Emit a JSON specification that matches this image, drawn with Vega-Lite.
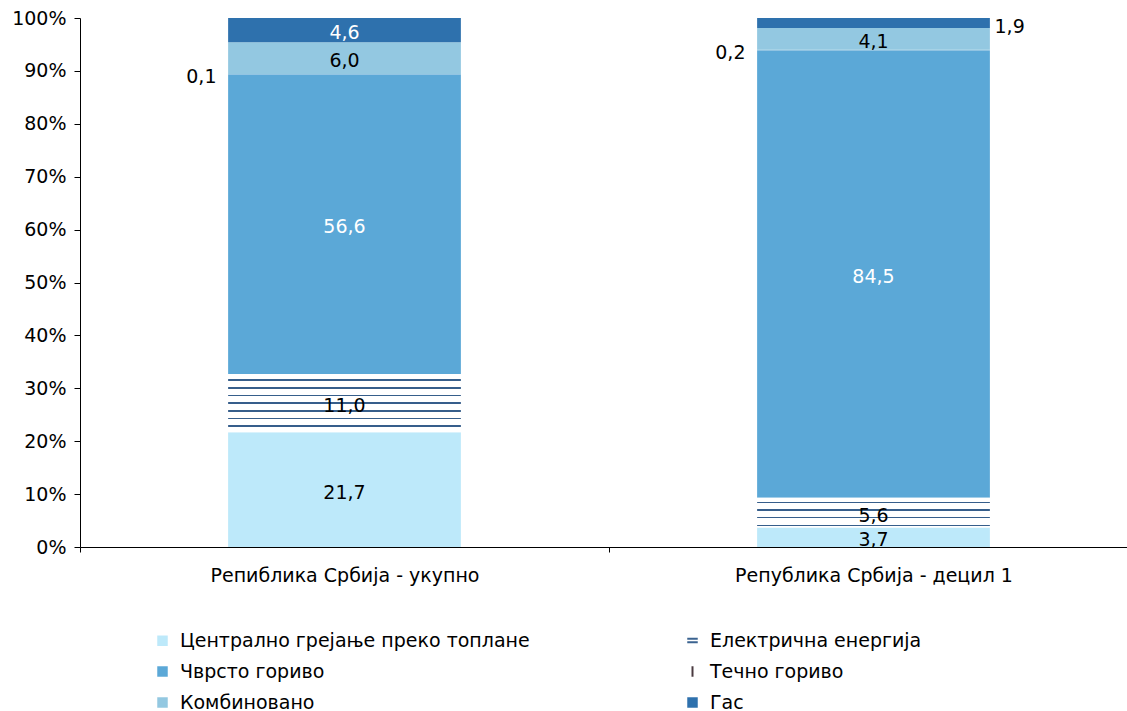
{
  "$schema": "https://vega.github.io/schema/vega-lite/v6.json",
  "width": 1047,
  "height": 529,
  "autosize": {"type": "none"},
  "padding": {"left": 80, "top": 18, "right": 0, "bottom": 164},
  "config": {
    "view": {"stroke": null},
    "locale": {"number": {"decimal": ",", "thousands": ".", "grouping": [3], "currency": ["", " €"]}},
    "axis": {"labelFont": "DejaVu Sans", "labelFontSize": 19, "labelColor": "#000000", "domainColor": "#000000", "tickColor": "#000000", "grid": false, "title": null},
    "text": {"font": "DejaVu Sans", "fontSize": 19}
  },
  "data": {
    "values": [
      {"cat": "Репиблика Србија - укупно", "series": "Централно грејање преко топлане", "k": 1, "value": 21.7},
      {"cat": "Репиблика Србија - укупно", "series": "Електрична енергија", "k": 2, "value": 11.0},
      {"cat": "Репиблика Србија - укупно", "series": "Чврсто гориво", "k": 3, "value": 56.6},
      {"cat": "Репиблика Србија - укупно", "series": "Течно гориво", "k": 4, "value": 0.1},
      {"cat": "Репиблика Србија - укупно", "series": "Комбиновано", "k": 5, "value": 6.0},
      {"cat": "Репиблика Србија - укупно", "series": "Гас", "k": 6, "value": 4.6},
      {"cat": "Република Србија - децил 1", "series": "Централно грејање преко топлане", "k": 1, "value": 3.7},
      {"cat": "Република Србија - децил 1", "series": "Електрична енергија", "k": 2, "value": 5.6},
      {"cat": "Република Србија - децил 1", "series": "Чврсто гориво", "k": 3, "value": 84.5},
      {"cat": "Република Србија - децил 1", "series": "Течно гориво", "k": 4, "value": 0.2},
      {"cat": "Република Србија - децил 1", "series": "Комбиновано", "k": 5, "value": 4.1},
      {"cat": "Република Србија - децил 1", "series": "Гас", "k": 6, "value": 1.9}
    ]
  },
  "transform": [
    {"stack": "value", "groupby": ["cat"], "sort": [{"field": "k", "order": "ascending"}], "offset": "normalize", "as": ["y0", "y1"]}
  ],
  "encoding": {
    "x": {
      "field": "cat", "type": "nominal",
      "sort": ["Репиблика Србија - укупно", "Република Србија - децил 1"],
      "scale": {"range": [0, 1058], "paddingInner": 0, "paddingOuter": 0},
      "axis": {"labelAngle": 0, "tickSize": 5, "tickBand": "extent", "labelPadding": 14, "title": null, "labelLimit": 500}
    }
  },
  "layer": [
    {
      "transform": [{"filter": "datum.series !== 'Електрична енергија'"}],
      "mark": {"type": "bar", "width": {"band": 0.44}},
      "encoding": {
        "y": {"field": "y0", "type": "quantitative", "scale": {"domain": [0, 1], "nice": false},
          "axis": {"values": [0, 0.1, 0.2, 0.3, 0.4, 0.5, 0.6, 0.7, 0.8, 0.9, 1], "format": ".0%", "tickSize": 6, "labelPadding": 8, "title": null}},
        "y2": {"field": "y1"},
        "color": {
          "field": "series", "type": "nominal",
          "scale": {
            "domain": ["Централно грејање преко топлане", "Чврсто гориво", "Комбиновано", "Електрична енергија", "Течно гориво", "Гас"],
            "range": ["#BDE9FA", "#5BA8D7", "#93C8E1", "#3B6390", "#78B6DB", "#2E71AD"]
          },
          "legend": {
            "orient": "none", "legendX": 73, "legendY": 613, "columns": 2, "title": null,
            "symbolType": "square", "symbolSize": 110, "labelFont": "DejaVu Sans", "labelFontSize": 19,
            "labelColor": "#000000", "labelOffset": 8, "rowPadding": 11, "columnPadding": 153, "labelLimit": 600,
            "encode": {
              "symbols": {
                "update": {
                  "shape": {"signal": "datum.value === 'Течно гориво' ? 'M0,-1L0,1' : datum.value === 'Електрична енергија' ? 'M-1,-0.4L1,-0.4M-1,0.3L1,0.3' : 'square'"},
                  "stroke": {"signal": "datum.value === 'Течно гориво' ? '#4A3A40' : datum.value === 'Електрична енергија' ? '#3B6390' : 'transparent'"},
                  "strokeWidth": {"value": 2}
                }
              }
            }
          }
        }
      }
    },
    {
      "transform": [{"filter": "datum.series === 'Електрична енергија' && datum.cat === 'Репиблика Србија - укупно'"}],
      "mark": {
        "type": "bar", "width": {"band": 0.44},
        "fill": {
          "gradient": "linear", "x1": 0, "y1": 0, "x2": 0, "y2": 1,
          "stops": [
            {"offset": 0, "color": "#ffffff"},
            {"offset": 0.089, "color": "#ffffff"}, {"offset": 0.089, "color": "#365E8B"}, {"offset": 0.117, "color": "#365E8B"}, {"offset": 0.117, "color": "#ffffff"},
            {"offset": 0.221, "color": "#ffffff"}, {"offset": 0.221, "color": "#365E8B"}, {"offset": 0.249, "color": "#365E8B"}, {"offset": 0.249, "color": "#ffffff"},
            {"offset": 0.354, "color": "#ffffff"}, {"offset": 0.354, "color": "#365E8B"}, {"offset": 0.382, "color": "#365E8B"}, {"offset": 0.382, "color": "#ffffff"},
            {"offset": 0.486, "color": "#ffffff"}, {"offset": 0.486, "color": "#365E8B"}, {"offset": 0.514, "color": "#365E8B"}, {"offset": 0.514, "color": "#ffffff"},
            {"offset": 0.618, "color": "#ffffff"}, {"offset": 0.618, "color": "#365E8B"}, {"offset": 0.646, "color": "#365E8B"}, {"offset": 0.646, "color": "#ffffff"},
            {"offset": 0.751, "color": "#ffffff"}, {"offset": 0.751, "color": "#365E8B"}, {"offset": 0.779, "color": "#365E8B"}, {"offset": 0.779, "color": "#ffffff"},
            {"offset": 0.883, "color": "#ffffff"}, {"offset": 0.883, "color": "#365E8B"}, {"offset": 0.911, "color": "#365E8B"}, {"offset": 0.911, "color": "#ffffff"},
            {"offset": 1, "color": "#ffffff"}
          ]
        }
      },
      "encoding": {
        "y": {"field": "y0", "type": "quantitative"},
        "y2": {"field": "y1"}
      }
    },
    {
      "transform": [{"filter": "datum.series === 'Електрична енергија' && datum.cat === 'Република Србија - децил 1'"}],
      "mark": {
        "type": "bar", "width": {"band": 0.44},
        "fill": {
          "gradient": "linear", "x1": 0, "y1": 0, "x2": 0, "y2": 1,
          "stops": [
            {"offset": 0, "color": "#ffffff"},
            {"offset": 0.14, "color": "#ffffff"}, {"offset": 0.14, "color": "#365E8B"}, {"offset": 0.192, "color": "#365E8B"}, {"offset": 0.192, "color": "#ffffff"},
            {"offset": 0.386, "color": "#ffffff"}, {"offset": 0.386, "color": "#365E8B"}, {"offset": 0.438, "color": "#365E8B"}, {"offset": 0.438, "color": "#ffffff"},
            {"offset": 0.646, "color": "#ffffff"}, {"offset": 0.646, "color": "#365E8B"}, {"offset": 0.698, "color": "#365E8B"}, {"offset": 0.698, "color": "#ffffff"},
            {"offset": 0.903, "color": "#ffffff"}, {"offset": 0.903, "color": "#365E8B"}, {"offset": 0.955, "color": "#365E8B"}, {"offset": 0.955, "color": "#ffffff"},
            {"offset": 1, "color": "#ffffff"}
          ]
        }
      },
      "encoding": {
        "y": {"field": "y0", "type": "quantitative"},
        "y2": {"field": "y1"}
      }
    },
    {
      "mark": {"type": "text", "baseline": "middle", "align": "center", "dy": 3},
      "encoding": {
        "y": {"field": "value", "type": "quantitative", "stack": "normalize", "bandPosition": 0.5},
        "detail": {"field": "series"},
        "order": {"field": "k", "type": "quantitative"},
        "text": {
          "condition": {"test": "datum.series !== 'Течно гориво' && !(datum.series === 'Гас' && datum.cat === 'Република Србија - децил 1')", "field": "value", "type": "quantitative", "format": ".1f"},
          "value": ""
        },
        "color": {"condition": {"test": "datum.series === 'Чврсто гориво' || datum.series === 'Гас'", "value": "#ffffff"}, "value": "#000000"}
      }
    },
    {
      "mark": {"type": "text", "baseline": "middle", "align": "right", "dx": -128, "dy": 3, "color": "#000000"},
      "encoding": {
        "y": {"field": "value", "type": "quantitative", "stack": "normalize", "bandPosition": 0.5},
        "detail": {"field": "series"},
        "order": {"field": "k", "type": "quantitative"},
        "text": {
          "condition": {"test": "datum.series === 'Течно гориво'", "field": "value", "type": "quantitative", "format": ".1f"},
          "value": ""
        }
      }
    },
    {
      "mark": {"type": "text", "baseline": "middle", "align": "left", "dx": 121, "dy": 4, "color": "#000000"},
      "encoding": {
        "y": {"field": "value", "type": "quantitative", "stack": "normalize", "bandPosition": 0.5},
        "detail": {"field": "series"},
        "order": {"field": "k", "type": "quantitative"},
        "text": {
          "condition": {"test": "datum.series === 'Гас' && datum.cat === 'Република Србија - децил 1'", "field": "value", "type": "quantitative", "format": ".1f"},
          "value": ""
        }
      }
    }
  ]
}
